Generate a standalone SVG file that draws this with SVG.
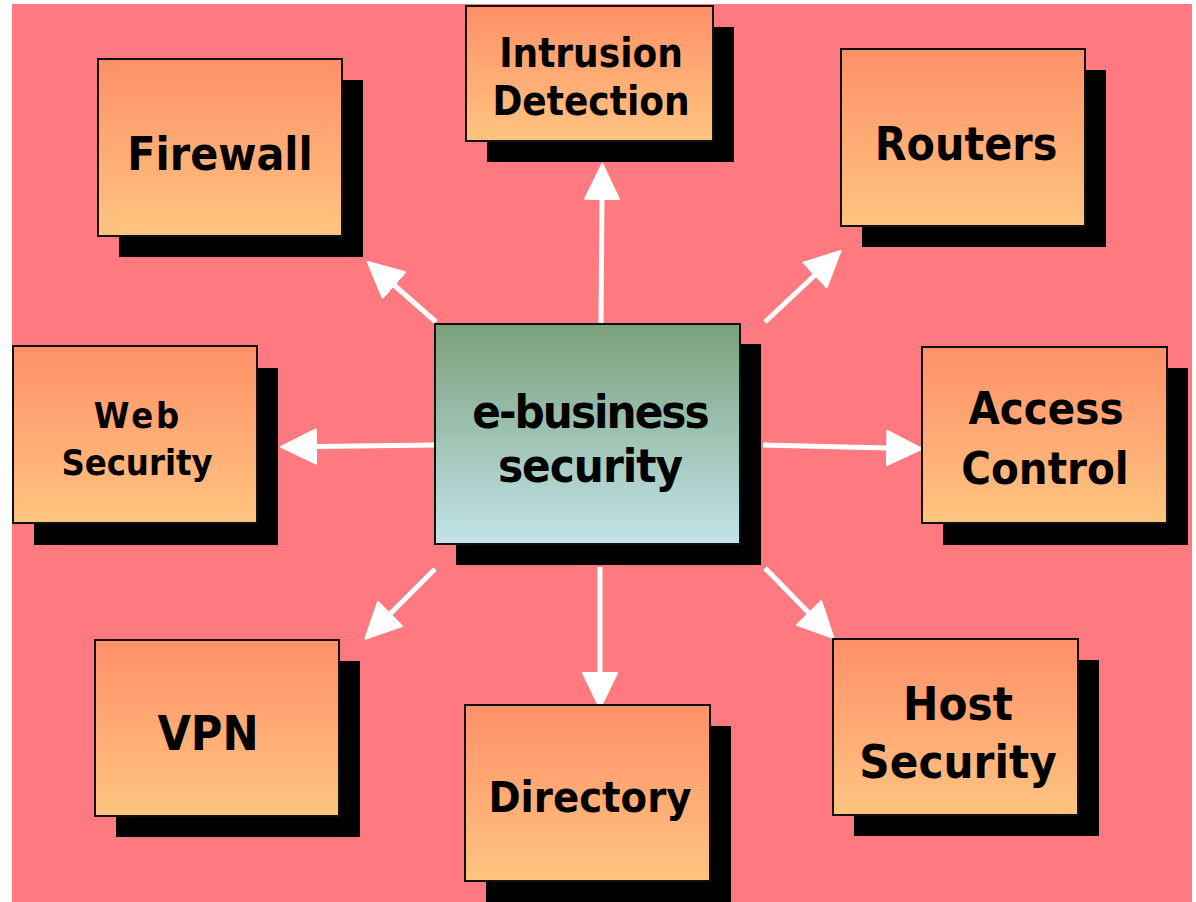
<svg xmlns="http://www.w3.org/2000/svg" width="1196" height="902" viewBox="0 0 1196 902">
<defs>
<linearGradient id="og" x1="0" y1="0" x2="0" y2="1">
<stop offset="0" stop-color="#FF9068"/>
<stop offset="1" stop-color="#FFC480"/>
</linearGradient>
<linearGradient id="gg" x1="0" y1="0" x2="0" y2="1">
<stop offset="0" stop-color="#7AA07A"/>
<stop offset="1" stop-color="#C2E4EA"/>
</linearGradient>
<marker id="ah" viewBox="0 0 38 38" markerUnits="userSpaceOnUse" markerWidth="38" markerHeight="38" refX="1" refY="19" orient="auto">
<path d="M1,2 L36,19 L1,36 Z" fill="#fff" stroke="#fff" stroke-width="2" stroke-linejoin="round"/>
</marker>
</defs>
<style>
.bg{fill:#FF7A80}
.sh{fill:#000}
.box{fill:url(#og);stroke:#111;stroke-width:2}
.cbox{fill:url(#gg);stroke:#111;stroke-width:2}
text{font-family:"DejaVu Sans Condensed","DejaVu Sans",sans-serif;font-weight:bold;fill:#000;text-anchor:middle}
.ln{stroke:#fff;stroke-width:5;fill:none;marker-end:url(#ah)}
</style>
<rect class="bg" x="12" y="4" width="1180" height="898"/>
<g id="connectors">
<line class="ln" x1="601" y1="323" x2="602" y2="199"/>
<line class="ln" x1="436" y1="322" x2="394" y2="285"/>
<line class="ln" x1="765" y1="322" x2="815" y2="275"/>
<line class="ln" x1="434" y1="445" x2="316" y2="446.5"/>
<line class="ln" x1="763" y1="445" x2="887" y2="448"/>
<line class="ln" x1="435" y1="569" x2="390" y2="614"/>
<line class="ln" x1="600" y1="567" x2="600" y2="673"/>
<line class="ln" x1="765" y1="568" x2="809" y2="613"/>
</g>
<g id="firewall">
<rect class="sh" x="119" y="80" width="244" height="177"/>
<rect class="box" x="98" y="59" width="244" height="177"/>
<text x="220" y="170" font-size="46">Firewall</text>
</g>
<g id="intrusion-detection">
<rect class="sh" x="487" y="27" width="247" height="135"/>
<rect class="box" x="466" y="6" width="247" height="135"/>
<text x="591" y="67" font-size="40">Intrusion</text>
<text x="591" y="115" font-size="40">Detection</text>
</g>
<g id="routers">
<rect class="sh" x="862" y="70" width="244" height="177"/>
<rect class="box" x="841" y="49" width="244" height="177"/>
<text x="966" y="160" font-size="46">Routers</text>
</g>
<g id="web-security">
<rect class="sh" x="34" y="368" width="244" height="177"/>
<rect class="box" x="13" y="346" width="244" height="177"/>
<text x="138" y="428" font-size="36" letter-spacing="3">Web</text>
<text x="137" y="475" font-size="36">Security</text>
</g>
<g id="e-business-security">
<rect class="sh" x="456" y="344" width="305" height="221"/>
<rect class="cbox" x="435" y="324" width="305" height="220"/>
<text x="590" y="428" font-size="47" letter-spacing="-2">e-business</text>
<text x="590" y="482" font-size="47" letter-spacing="-1">security</text>
</g>
<g id="access-control">
<rect class="sh" x="943" y="368" width="245" height="177"/>
<rect class="box" x="922" y="347" width="245" height="176"/>
<text x="1046" y="424" font-size="45">Access</text>
<text x="1045" y="484" font-size="45">Control</text>
</g>
<g id="vpn">
<rect class="sh" x="116" y="661" width="244" height="176"/>
<rect class="box" x="95" y="640" width="244" height="176"/>
<text x="208" y="750" font-size="48">VPN</text>
</g>
<g id="directory">
<rect class="sh" x="486" y="726" width="245" height="180"/>
<rect class="box" x="465" y="705" width="245" height="176"/>
<text x="590" y="812" font-size="43">Directory</text>
</g>
<g id="host-security">
<rect class="sh" x="854" y="660" width="245" height="176"/>
<rect class="box" x="833" y="639" width="245" height="176"/>
<text x="958" y="720" font-size="47">Host</text>
<text x="958" y="778" font-size="47">Security</text>
</g>
</svg>
